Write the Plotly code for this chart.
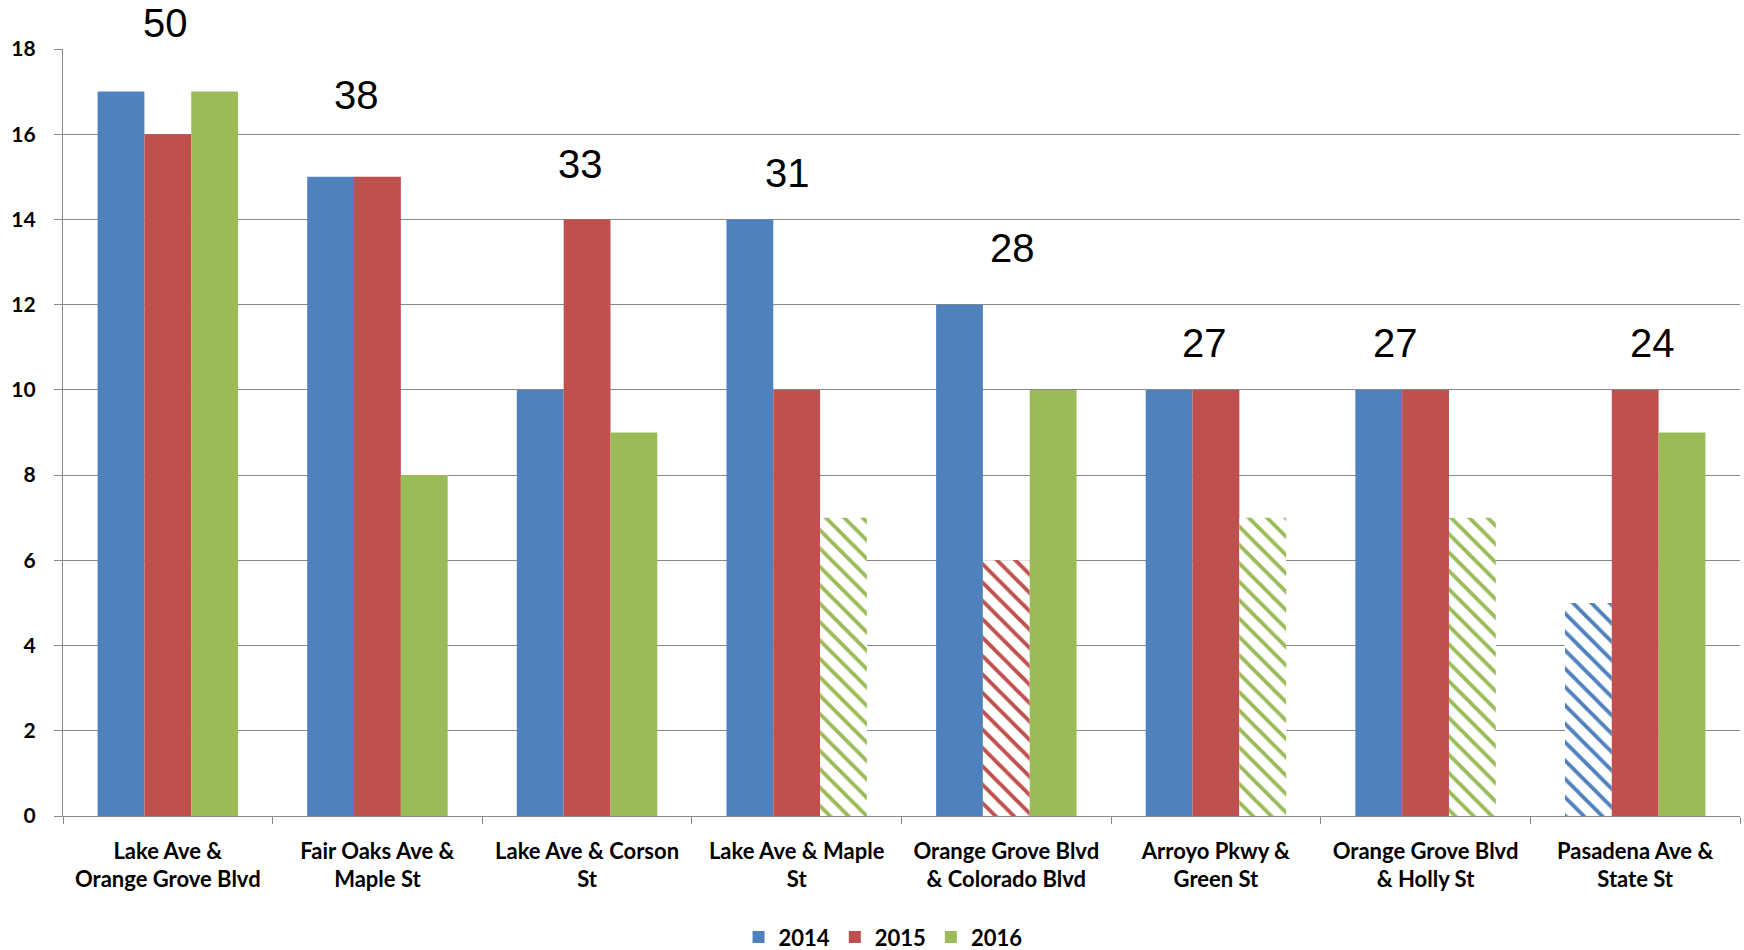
import plotly.graph_objects as go

categories = [
    "Lake Ave &<br>Orange Grove Blvd",
    "Fair Oaks Ave &<br>Maple St",
    "Lake Ave & Corson<br>St",
    "Lake Ave & Maple<br>St",
    "Orange Grove Blvd<br>& Colorado Blvd",
    "Arroyo Pkwy &<br>Green St",
    "Orange Grove Blvd<br>& Holly St",
    "Pasadena Ave &<br>State St",
]
series_names = ["2014", "2015", "2016"]
values_2014 = [17, 15, 10, 14, 12, 10, 10, 5]
values_2015 = [16, 15, 14, 10, 6, 10, 10, 10]
values_2016 = [17, 8, 9, 7, 10, 7, 7, 9]
# which bars are drawn hatched (True) in the reference
hatched_2014 = [False, False, False, False, False, False, False, True]
hatched_2015 = [False, False, False, False, True, False, False, False]
hatched_2016 = [False, False, False, True, False, True, True, False]
y_ticks = [0, 2, 4, 6, 8, 10, 12, 14, 16, 18]
y_max = 18

# placement of the total labels (layout only)
label_x_offset = [-0.01, -0.10, -0.03, -0.046, 0.03, -0.054, -0.143, 0.083]
label_y = [18.61, 16.93, 15.29, 15.10, 13.33, 11.10, 11.10, 11.09]

colors = ["#4F81BD", "#C0504D", "#9BBB59"]
all_values = [values_2014, values_2015, values_2016]
all_hatched = [hatched_2014, hatched_2015, hatched_2016]

fig = go.Figure()
for name, vals, hatch, col in zip(series_names, all_values, all_hatched, colors):
    fig.add_trace(go.Bar(
        name=name,
        x=categories,
        y=vals,
        marker=dict(
            color=col,
            line=dict(width=0),
            pattern=dict(
                shape=["\\" if h else "" for h in hatch],
                fgcolor=col,
                bgcolor="white",
                size=13,
                solidity=0.3,
                fillmode="replace",
            ),
        ),
    ))

totals = [a + b + c for a, b, c in zip(values_2014, values_2015, values_2016)]
for i, t in enumerate(totals):
    fig.add_annotation(
        x=i + label_x_offset[i], y=label_y[i] / y_max, xref="x", yref="paper",
        text=str(t), showarrow=False,
        font=dict(family="Liberation Sans, Arial", size=40, color="black"),
        xanchor="center", yanchor="middle",
    )

axis_gray = "#888888"
fig.update_layout(
    width=1744, height=950,
    margin=dict(l=63, r=4, t=48.5, b=134.3, autoexpand=False),
    paper_bgcolor="white", plot_bgcolor="white",
    barmode="group", bargap=0.33, bargroupgap=0,
    font=dict(family="Lato", color="black"),
    showlegend=True,
    legend=dict(
        orientation="h", x=0.489, xanchor="center", y=-0.158, yanchor="middle",
        font=dict(family="Lato", size=22, color="black", weight="bold"),
        traceorder="normal",
    ),
    xaxis=dict(
        type="category", tickangle=0, tickson="boundaries",
        ticks="outside", ticklen=7, tickcolor=axis_gray, tickwidth=1.3,
        showline=True, linecolor=axis_gray, linewidth=1.3,
        tickfont=dict(family="Lato", size=22, color="black", weight="bold"),
        ticklabelstandoff=15,
        showgrid=False, zeroline=False,
    ),
    yaxis=dict(
        range=[0, y_max], tickvals=y_ticks, ticktext=[str(v) for v in y_ticks],
        ticks="outside", ticklen=8, tickcolor=axis_gray, tickwidth=1.3,
        showline=True, linecolor=axis_gray, linewidth=1.3,
        showgrid=True, gridcolor=axis_gray, gridwidth=1.3,
        zeroline=False,
        tickfont=dict(family="Lato", size=21, color="black", weight="bold"),
        ticklabelstandoff=14,
    ),
)

fig.write_html("out.html")
